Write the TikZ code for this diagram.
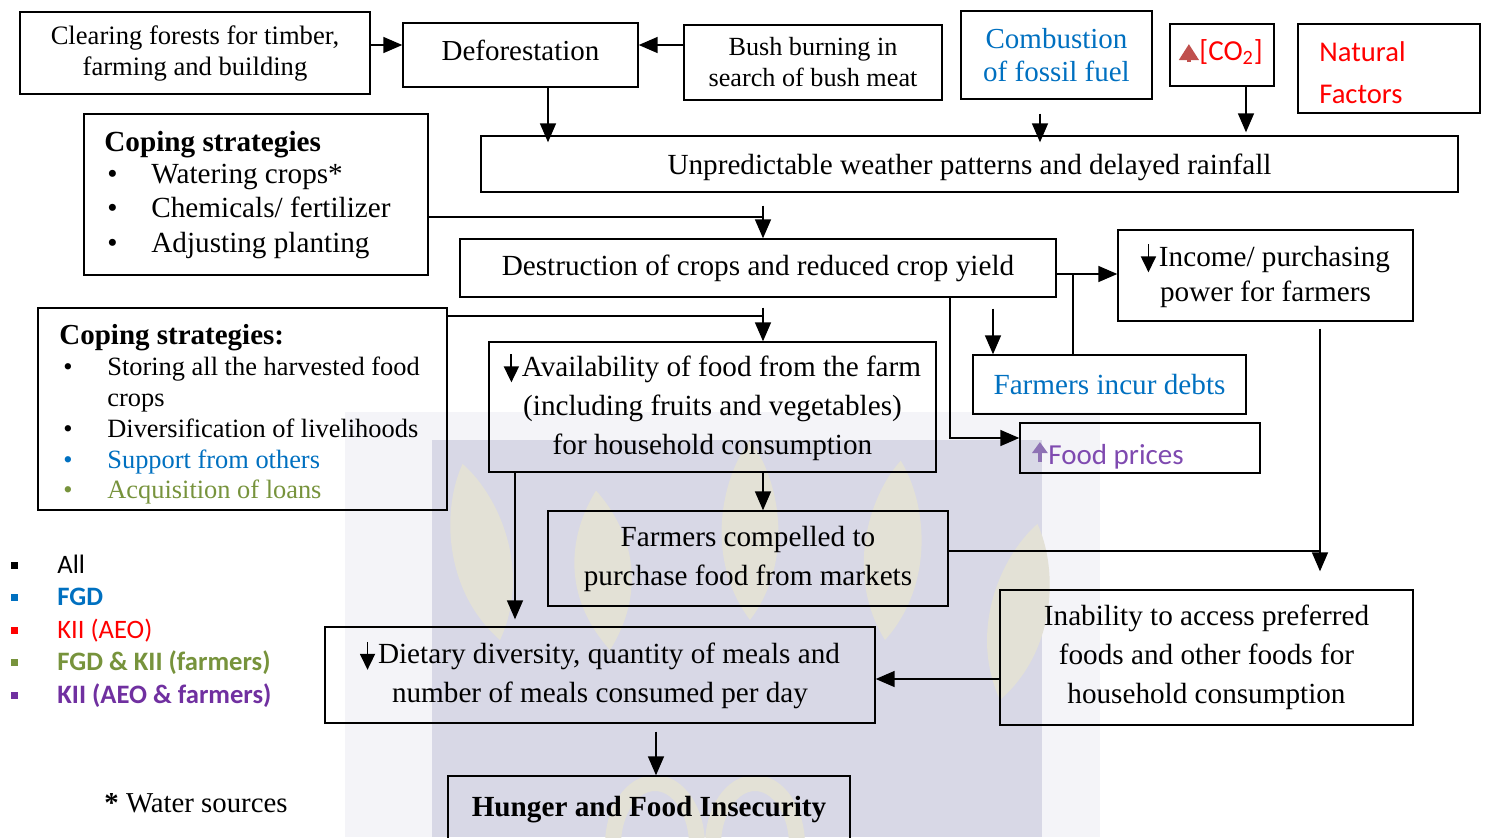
\documentclass[tikz,border=0pt]{standalone}
\usepackage{fontspec}
\setmainfont{Liberation Serif}
\newfontfamily\calfont{Carlito}
\usetikzlibrary{arrows.meta,calc}

\definecolor{msblue}{HTML}{0070C0}
\definecolor{msred}{HTML}{FF0000}
\definecolor{msgreen}{HTML}{77933C}
\definecolor{mspurple}{HTML}{7030A0}
\definecolor{fpurple}{HTML}{7F4AB0}
\definecolor{lpurple}{HTML}{8E72B4}
\definecolor{co2col}{HTML}{C0504D}
\definecolor{wmback}{RGB}{216,216,230}
\definecolor{wmleaf}{RGB}{227,225,214}
\definecolor{wmfringe}{RGB}{244,244,248}

\newcommand\fsz[2]{\fontsize{#1pt}{#2pt}\selectfont}
\newcommand\dnarr{\tikz[baseline=0pt]\draw[black,line width=0.9pt,-{Triangle[length=8pt,width=7.5pt]}] (0,11pt) -- (0,-3pt);\hspace{1.5pt}}
\newcommand\coarrow{\tikz[baseline=0pt]\draw[co2col,line width=2.4pt,-{Triangle[length=8pt,width=9.5pt]}] (0,-1pt) -- (0,8pt);\hspace{0.5pt}}
\newcommand\fparrow{\tikz[baseline=0pt]\draw[lpurple,line width=1.6pt,-{Triangle[length=5.5pt,width=7.5pt]}] (0,1pt) -- (0,11pt);\hspace{0.5pt}}

\tikzset{
  box/.style={draw, line width=0.7pt, inner sep=0pt, align=center},
  conn/.style={line width=0.8pt},
  arr/.style={conn, -{Triangle[length=9.5pt,width=8pt]}},
  txt/.style={inner sep=0pt, anchor=base west},
}

\begin{document}
\begin{tikzpicture}[x=0.5pt,y=-0.5pt]
\useasboundingbox (0,0) rectangle (1490,837);
\clip (0,0) rectangle (1490,837);

% watermark
\fill[wmfringe] (345,412) rectangle (1100,837);
\fill[wmback] (432,440) rectangle (1042,837);
\foreach \cx/\top/\bot/\ang in {500/460/640/12, 610/490/650/5, 750/440/620/0, 885/460/640/-5, 1000/520/700/-12}{
  \fill[wmleaf, rotate around={\ang:(\cx,\bot)}] (\cx,\bot) .. controls (\cx-45,\bot-60) and (\cx-30,\top+40) .. (\cx,\top)
     .. controls (\cx+30,\top+40) and (\cx+45,\bot-60) .. (\cx,\bot);
}
\draw[wmleaf, line width=8pt] (655,845) ellipse (42 and 62);
\draw[wmleaf, line width=8pt] (755,845) ellipse (42 and 62);

% top row
\node[box, minimum width=175pt, minimum height=41pt, font=\fsz{13.3}{15.5}] (clear) at (195,53) {Clearing forests for timber,\\farming and building};
\node[box, minimum width=117.5pt, minimum height=32pt] (defo) at (520.5,55) {};
\node[font=\fsz{14.5}{17}, inner sep=0pt] (defot) at (520.5,50) {Deforestation};
\node[box, minimum width=129pt, minimum height=37.5pt, font=\fsz{13.1}{15.5}] (bush) at (813,62.5) {Bush burning in\\search of bush meat};
\node[box, minimum width=95.5pt, minimum height=44pt, font=\fsz{14.5}{16.5}, text=msblue] (comb) at (1056.5,55) {Combustion\\of fossil fuel};
\node[box, minimum width=52pt, minimum height=31pt] (co2) at (1222,55) {};
\node[txt, font=\calfont\fsz{14.5}{17}, text=msred] (co2t) at (1179,60) {\coarrow[CO\textsubscript{2}]};
\node[box, minimum width=91pt, minimum height=44.5pt] (nat) at (1389,68.5) {};
\node[txt, font=\calfont\fsz{14.3}{21}, text=msred] (nat1) at (1319,61) {Natural};
\node[txt, font=\calfont\fsz{14.3}{21}, text=msred] (nat2) at (1319,103) {Factors};

\node[box, minimum width=488.5pt, minimum height=28pt] (unpred) at (969.5,164) {};
\node[font=\fsz{14.6}{17}, inner sep=0pt] (unpredt) at (969.5,167) {Unpredictable weather patterns and delayed rainfall};

% coping strategies 1
\node[box, minimum width=172pt, minimum height=80.5pt] (cope1) at (256,194.5) {};
\node[txt, font=\bfseries\fsz{14.6}{17}] (c1t) at (104,151) {Coping strategies};
\node[txt, font=\fsz{14.6}{17}] (c1a) at (104,183) {\makebox[23.5pt][l]{\hspace{1.5pt}•}Watering crops*};
\node[txt, font=\fsz{14.6}{17}] (c1b) at (104,217) {\makebox[23.5pt][l]{\hspace{1.5pt}•}Chemicals/ fertilizer};
\node[txt, font=\fsz{14.6}{17}] (c1c) at (104,252) {\makebox[23.5pt][l]{\hspace{1.5pt}•}Adjusting planting};

\node[box, minimum width=298pt, minimum height=29pt, font=\fsz{14.6}{17}] (destr) at (758,268) {Destruction of crops and reduced crop yield};
\node[box, minimum width=147.5pt, minimum height=45.5pt, font=\fsz{14.6}{17.5}] (income) at (1265.5,275.5) {\dnarr Income/ purchasing\\power for farmers};

% coping strategies 2
\node[box, minimum width=204.5pt, minimum height=101pt] (cope2) at (242.5,409) {};
\node[txt, font=\bfseries\fsz{14.5}{17}] (c2t) at (59,344) {Coping strategies:};
\node[txt, font=\fsz{13.2}{15.5}] (c2a) at (59,375) {\makebox[24pt][l]{\hspace{2pt}•}Storing all the harvested food};
\node[txt, font=\fsz{13.2}{15.5}] (c2b) at (59,406) {\makebox[24pt][l]{}crops};
\node[txt, font=\fsz{13.2}{15.5}] (c2c) at (59,437) {\makebox[24pt][l]{\hspace{2pt}•}Diversification of livelihoods};
\node[txt, font=\fsz{13.2}{15.5}, text=msblue] (c2d) at (59,468) {\makebox[24pt][l]{\hspace{2pt}•}Support from others};
\node[txt, font=\fsz{13.2}{15.5}, text=msgreen] (c2e) at (59,498) {\makebox[24pt][l]{\hspace{2pt}•}Acquisition of loans};

\node[box, minimum width=136.5pt, minimum height=29.5pt, font=\fsz{14.6}{17}, text=msblue] (debts) at (1109.5,384.5) {Farmers incur debts};
\node[box, minimum width=223.5pt, minimum height=65pt, font=\fsz{14.6}{19.5}] (avail) at (712.5,407) {\dnarr Availability of food from the farm\\(including fruits and vegetables)\\for household consumption};
\node[box, minimum width=120pt, minimum height=25pt] (foodp) at (1140,448) {};
\node[txt, font=\calfont\fsz{14.5}{17}, text=fpurple] (foodpt) at (1032,464) {\fparrow Food prices};

\node[box, minimum width=200pt, minimum height=47.5pt, font=\fsz{14.6}{19.5}] (compel) at (748,558.5) {Farmers compelled to\\purchase food from markets};
\node[box, minimum width=206.5pt, minimum height=67.5pt, font=\fsz{14.6}{19.5}] (inab) at (1206.5,657.5) {Inability to access preferred\\foods and other foods for\\household consumption};
\node[box, minimum width=275pt, minimum height=48pt, font=\fsz{14.6}{19.5}] (diet) at (600,675) {\dnarr Dietary diversity, quantity of meals and\\number of meals consumed per day};
\node[box, minimum width=201pt, minimum height=34pt, font=\bfseries\fsz{14.6}{17}] (hunger) at (649,810) {Hunger and Food Insecurity};

% legend
\foreach \c/\y in {black/565, msblue/597, msred/630, msgreen/662, mspurple/695}{
  \fill[\c] (10.5,\y-3.5) rectangle (17.5,\y+3.5);
}
\node[txt, font=\calfont\fsz{13.3}{16}] (lg1) at (57,573) {All};
\node[txt, font=\calfont\bfseries\fsz{13.3}{16}, text=msblue] (lg2) at (57,605) {FGD};
\node[txt, font=\calfont\fsz{13.3}{16}, text=msred] (lg3) at (57,638) {KII (AEO)};
\node[txt, font=\calfont\bfseries\fsz{13.3}{16}, text=msgreen] (lg4) at (57,670) {FGD \& KII (farmers)};
\node[txt, font=\calfont\bfseries\fsz{13.3}{16}, text=mspurple] (lg5) at (57,703) {KII (AEO \& farmers)};
\node[txt, font=\fsz{14.4}{17}] (ws) at (104,812) {\textbf{*} Water sources};

% connectors
\draw[arr] ([yshift=5pt]defo.west -| clear.east) -- ([yshift=5pt]defo.west);
\draw[arr] ([yshift=5pt]defo.east -| bush.west) -- ([yshift=5pt]defo.east);
\draw[arr, shorten >=-3.5pt] ([xshift=13.75pt]defo.south) -- ([xshift=13.75pt]defo.south |- unpred.north);
\draw[arr, shorten <=7pt, shorten >=-3.5pt] ([xshift=-8.25pt]comb.south) -- ([xshift=-8.25pt]comb.south |- unpred.north);
\draw[arr, shorten >=1.5pt] ([xshift=12pt]co2.south) -- ([xshift=12pt]co2.south |- unpred.north);

\coordinate (x763) at ([xshift=2.5pt]destr.north);
\draw[arr, shorten <=6.5pt] (x763 |- unpred.south) -- (x763);
\coordinate (j1) at ([yshift=-11.25pt]cope1.east);
\draw[conn] (j1) -- (j1 -| x763);

\coordinate (j2) at ([yshift=-3pt]destr.east);
\draw[arr] (j2) -- (j2 -| income.west);
\draw[conn] ([xshift=-18.25pt]debts.north) -- ([xshift=-18.25pt]debts.north |- j2);
\draw[arr, shorten <=5.5pt] ([xshift=-58.25pt]debts.north |- destr.south) -- ([xshift=-58.25pt]debts.north);
\draw[arr] ([xshift=96pt]destr.south) |- ([yshift=5pt]foodp.west);

\coordinate (a763) at ([xshift=25.25pt]avail.north);
\draw[arr, shorten <=5pt] (a763 |- destr.south) -- (a763);
\coordinate (j3) at ([yshift=46.5pt]cope2.east);
\draw[conn] (j3) -- (j3 -| a763);

\draw[arr, shorten >=3.5pt] ([xshift=-42.5pt]diet.north |- avail.south) -- ([xshift=-42.5pt]diet.north);
\draw[arr] ([xshift=7.5pt]compel.north |- avail.south) -- ([xshift=7.5pt]compel.north);

\coordinate (q1) at ([xshift=56.75pt]inab.north);
\draw[arr, shorten <=3.5pt, shorten >=9pt] (q1 |- income.south) -- (q1);
\draw[conn] ([yshift=3.75pt]compel.east) -- ([yshift=3.75pt]compel.east -| q1);
\draw[arr] ([yshift=-10.75pt]inab.west) -- ([yshift=-10.75pt]inab.west -| diet.east);
\draw[arr, shorten <=4pt] ([xshift=3.5pt]hunger.north |- diet.south) -- ([xshift=3.5pt]hunger.north);
\end{tikzpicture}
\end{document}
